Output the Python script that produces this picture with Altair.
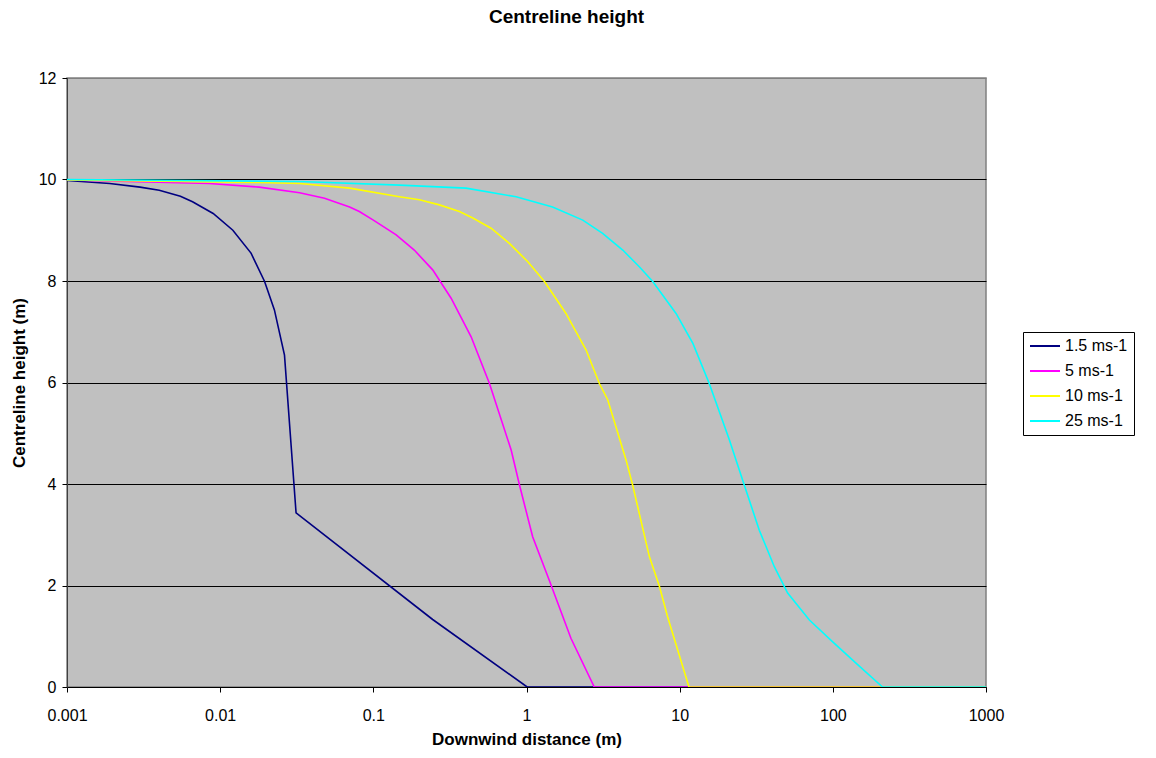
import altair as alt
import pandas as pd

series_names = ["1.5 ms-1", "5 ms-1", "10 ms-1", "25 ms-1"]
series_colors = ["#000080", "#FF00FF", "#FFFF00", "#00FFFF"]

x_15 = [0.001, 0.0019, 0.003, 0.004, 0.0055, 0.0066, 0.009, 0.0121, 0.0159, 0.0195, 0.0226, 0.0263, 0.0313, 0.244, 1.01, 1000]
h_15 = [9.98, 9.92, 9.85, 9.79, 9.67, 9.56, 9.33, 9.0, 8.55, 7.99, 7.43, 6.54, 3.43, 1.33, 0.0, 0.0]

x_5 = [0.001, 0.0085, 0.018, 0.033, 0.048, 0.07, 0.081, 0.1, 0.141, 0.185, 0.244, 0.322, 0.435, 0.573, 0.794, 0.9, 1.097, 1.41, 1.95, 2.77, 1000]
h_5 = [9.99, 9.92, 9.85, 9.74, 9.63, 9.46, 9.37, 9.2, 8.91, 8.61, 8.22, 7.66, 6.9, 5.98, 4.67, 3.98, 2.96, 2.1, 0.96, 0.0, 0.0]

x_10 = [0.001, 0.018, 0.033, 0.07, 0.148, 0.2, 0.27, 0.365, 0.446, 0.587, 0.773, 1.02, 1.31, 1.81, 2.45, 2.99, 3.39, 4.47, 4.93, 6.34, 7.38, 8.33, 11.5, 1000]
h_10 = [9.99, 9.94, 9.92, 9.83, 9.66, 9.6, 9.5, 9.37, 9.24, 9.04, 8.74, 8.38, 7.99, 7.36, 6.64, 5.98, 5.66, 4.47, 3.98, 2.57, 1.98, 1.39, 0.0, 0.0]

x_25 = [0.001, 0.033, 0.148, 0.403, 0.855, 1.48, 2.33, 3.14, 4.25, 5.45, 6.67, 9.47, 12.2, 15.6, 21.1, 26.4, 33.1, 41.5, 50.7, 70.3, 99.8, 141.6, 211, 1000]
h_25 = [10.0, 9.96, 9.89, 9.83, 9.66, 9.46, 9.2, 8.94, 8.61, 8.28, 7.99, 7.36, 6.77, 5.98, 4.87, 3.98, 3.09, 2.37, 1.85, 1.32, 0.89, 0.47, 0.0, 0.0]

x_ticks = [0.001, 0.01, 0.1, 1, 10, 100, 1000]
y_ticks = [0, 2, 4, 6, 8, 10, 12]

rows = []
for name, xs, hs in zip(series_names, [x_15, x_5, x_10, x_25], [h_15, h_5, h_10, h_25]):
    for i, (xv, hv) in enumerate(zip(xs, hs)):
        rows.append({"series": name, "x": xv, "h": hv, "order": i})
df = pd.DataFrame(rows)

FONT = "Liberation Sans"

chart = alt.Chart(df).mark_line(strokeWidth=1.6, clip=True).encode(
    x=alt.X(
        "x:Q",
        scale=alt.Scale(type="log", domain=[0.001, 1000]),
        axis=alt.Axis(
            values=x_ticks, format="~g", title="Downwind distance (m)", grid=False,
            labelFontSize=16, labelPadding=15, labelColor="black", labelFont=FONT,
            labelFlush=False, labelOverlap=False,
            tickSize=5, tickColor="black", domainColor="black",
            titleFontSize=17, titleFontWeight="bold", titleFont=FONT, titleColor="black",
            titleBaseline="alphabetic", titleY=57,
        ),
    ),
    y=alt.Y(
        "h:Q",
        scale=alt.Scale(domain=[0, 12], nice=False),
        axis=alt.Axis(
            values=y_ticks, title="Centreline height (m)",
            gridColor={"condition": {"test": "datum.value == 12", "value": "#808080"}, "value": "black"},
            gridOpacity=1,
            labelFontSize=16, labelPadding=6, labelColor="black", labelFont=FONT,
            labelFlush=False, labelOverlap=False,
            tickSize=5, tickColor="black", domainColor="#404040",
            titleFontSize=17, titleFontWeight="bold", titleFont=FONT, titleColor="black",
            titleBaseline="alphabetic", titleX=-43, titleY=304.5, titleAngle=-90,
        ),
    ),
    color=alt.Color(
        "series:N",
        scale=alt.Scale(domain=series_names, range=series_colors),
        legend=alt.Legend(
            title=None, orient="none", legendX=956, legendY=254,
            padding=6, strokeColor="black", fillColor="white", cornerRadius=0,
            labelFontSize=16, labelFont=FONT, labelColor="black", labelOffset=4,
            symbolType="stroke", symbolSize=900, symbolStrokeWidth=2,
            clipHeight=16, rowPadding=9,
        ),
    ),
    order="order:Q",
).properties(
    width=919,
    height=609,
    background="white",
    autosize=alt.AutoSizeParams(type="none"),
    padding={"left": 67, "top": 78, "right": 170, "bottom": 71},
    title=alt.TitleParams(
        "Centreline height", fontSize=19, fontWeight="bold", font=FONT, color="black",
        anchor="middle", frame="group", dx=40, offset=43,
    ),
).configure_view(
    fill="#C0C0C0", stroke="#808080", strokeWidth=1.5,
)

chart.save("out.html", embed_options={"renderer": "svg", "actions": False})
